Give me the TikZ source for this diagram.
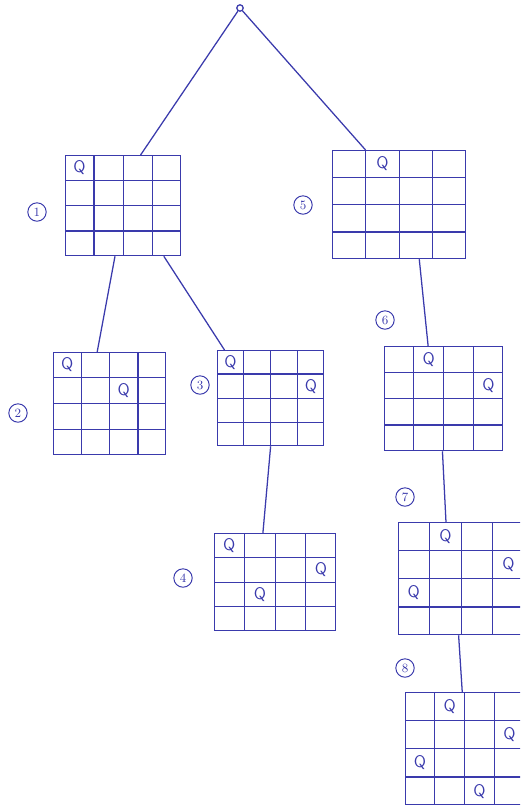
\documentclass[tikz,border=0pt]{standalone}
\usepackage{tikz}
\usetikzlibrary{calc}
\definecolor{inkblue}{RGB}{58,58,172}

% board: name, left, top (px), width, height
\newcommand{\qboard}[5]{%
  \node[boardbox, minimum width=#4*0.25mm, minimum height=#5*0.25mm,
        anchor=north west] (#1) at (#2,#3) {};
  \foreach \k in {1,2,3} {
    \draw[gridline] ($(#1.north west)!\k/4!(#1.north east)$) -- ($(#1.south west)!\k/4!(#1.south east)$);
    \draw[gridline] ($(#1.north west)!\k/4!(#1.south west)$) -- ($(#1.north east)!\k/4!(#1.south east)$);
  }}
% queen: board, row, column
\newcommand{\queen}[3]{%
  \node[queenmark] at ($ ($(#1.north west)!{(#2+0.5)/4}!(#1.south west)$)!{(#3+0.5)/4}!($(#1.north east)!{(#2+0.5)/4}!(#1.south east)$) $) {Q};}

\begin{document}
\begin{tikzpicture}[x=0.25mm, y=-0.25mm,
    boardbox/.style={draw=inkblue, line width=0.9pt, inner sep=0pt},
    gridline/.style={draw=inkblue, line width=0.9pt},
    queenmark/.style={text=inkblue, font=\sffamily\large, inner sep=0pt},
    stepno/.style={draw=inkblue, text=inkblue, circle, line width=0.7pt,
                   minimum size=4.6mm, inner sep=0pt, font=\small},
    edge/.style={draw=inkblue, line width=0.9pt}]
  \useasboundingbox (0,0) rectangle (520,806);
  \clip (0,0) rectangle (520,806);
  % root
  \node[draw=inkblue, circle, line width=0.9pt, minimum size=1.6mm, inner sep=0pt] (root) at (240,8) {};
  % boards
  \qboard{b1}{65}{155}{115}{100}
  \qboard{b5}{332}{150}{133}{108}
  \qboard{b2}{53}{352}{112}{102}
  \qboard{b3}{217}{350}{106}{95}
  \qboard{b6}{384}{346}{118}{104}
  \qboard{b4}{214}{533}{121}{97}
  \qboard{b7}{398}{522}{125}{112}
  \qboard{b8}{405}{692}{118}{112}
  % queens
  \queen{b1}{0}{0}
  \queen{b5}{0}{1}
  \queen{b2}{0}{0} \queen{b2}{1}{2}
  \queen{b3}{0}{0} \queen{b3}{1}{3}
  \queen{b6}{0}{1} \queen{b6}{1}{3}
  \queen{b4}{0}{0} \queen{b4}{1}{3} \queen{b4}{2}{1}
  \queen{b7}{0}{1} \queen{b7}{1}{3} \queen{b7}{2}{0}
  \queen{b8}{0}{1} \queen{b8}{1}{3} \queen{b8}{2}{0} \queen{b8}{3}{2}
  % step numbers
  \node[stepno] (n1) at (37,212) {1};
  \node[stepno] (n5) at (303,205) {5};
  \node[stepno] (n2) at (18,413) {2};
  \node[stepno] (n3) at (200,385) {3};
  \node[stepno] (n6) at (385,320) {6};
  \node[stepno] (n4) at (183,578) {4};
  \node[stepno] (n7) at (405,497) {7};
  \node[stepno] (n8) at (405,668) {8};
  % tree edges
  \draw[edge] (root) -- ($(b1.north west)!0.65!(b1.north east)$);
  \draw[edge] (root) -- ($(b5.north west)!0.25!(b5.north east)$);
  \draw[edge] ($(b1.south west)!0.43!(b1.south east)$) -- ($(b2.north west)!0.39!(b2.north east)$);
  \draw[edge] ($(b1.south west)!0.85!(b1.south east)$) -- ($(b3.north west)!0.07!(b3.north east)$);
  \draw[edge] ($(b5.south west)!0.65!(b5.south east)$) -- ($(b6.north west)!0.37!(b6.north east)$);
  \draw[edge] ($(b3.south west)!0.5!(b3.south east)$) -- ($(b4.north west)!0.4!(b4.north east)$);
  \draw[edge] ($(b6.south west)!0.49!(b6.south east)$) -- ($(b7.north west)!0.38!(b7.north east)$);
  \draw[edge] ($(b7.south west)!0.48!(b7.south east)$) -- ($(b8.north west)!0.48!(b8.north east)$);
\end{tikzpicture}
\end{document}
